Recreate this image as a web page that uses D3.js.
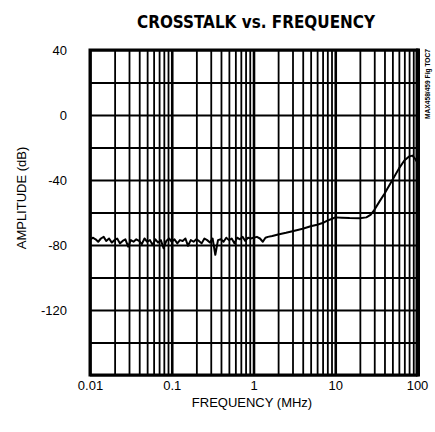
<!DOCTYPE html>
<html>
<head>
<meta charset="utf-8">
<script src="https://cdn.jsdelivr.net/npm/d3@7"></script>
<style>
  body { margin: 0; background: #fff; }
  svg { display: block; }
  .tick text { font-family: "Liberation Sans", Arial, sans-serif; font-size: 13px; fill: #000; }
  .axis path.domain { display: none; }
  .label { font-family: "Liberation Sans", Arial, sans-serif; font-size: 13px; fill: #000; }
</style>
</head>
<body>
<svg width="435" height="432"></svg>
<script>
var width = 435;
var height = 432;

// data (MHz, dB)
var noiseFreq = [
  0.0100, 0.0108, 0.0117, 0.0126, 0.0136, 0.0147, 0.0158, 0.0171, 0.0185, 0.0200,
  0.0215, 0.0232, 0.0251, 0.0271, 0.0293, 0.0316, 0.0341, 0.0368, 0.0398, 0.0430,
  0.0464, 0.0501, 0.0541, 0.0584, 0.0631, 0.0681, 0.0736, 0.0794, 0.0858, 0.0926,
  0.100, 0.108, 0.117, 0.126, 0.136, 0.147, 0.158, 0.171, 0.185, 0.200,
  0.215, 0.232, 0.251, 0.271, 0.293, 0.316, 0.341, 0.368, 0.398, 0.430,
  0.464, 0.501, 0.541, 0.584, 0.631, 0.681, 0.736, 0.794, 0.858, 0.926
];
var noiseDb = [
  -77, -75.5, -76.5, -78, -76, -75, -77.5, -76, -78.5, -77,
  -76, -79, -77.5, -76.5, -81, -77, -78, -76.5, -77.5, -79.5,
  -76, -78, -77, -80, -76.5, -78.5, -77, -82, -77.5, -76,
  -78, -76.5, -79, -77, -77.5, -76, -80.5, -77, -78, -76.5,
  -77.5, -79, -76, -77, -78.5, -76, -86, -77, -76.5, -78,
  -75.5, -77, -76, -79, -75.5, -76.5, -75, -77.5, -75.5, -76
];
var riseFreq = [1, 1.1, 1.2, 1.3, 1.4, 1.5, 1.7, 2, 2.5, 3, 4, 5, 6, 7, 8, 9, 10,
  12, 15, 20, 24, 27, 30, 35, 40, 50, 60, 70, 80, 88, 95, 100];
var riseDb = [-75.5, -75, -76, -78, -75.5, -75, -74.5, -73.5, -72.5, -71.5, -70, -68.5, -67.5, -66.5, -65, -64, -63,
  -63.2, -63.4, -63.5, -63, -61.5, -58.5, -53, -48.5, -40, -33, -28, -25.5, -25, -27, -29];

var xTicks = [0.01, 0.02, 0.03, 0.04, 0.05, 0.06, 0.07, 0.08, 0.09,
  0.1, 0.2, 0.3, 0.4, 0.5, 0.6, 0.7, 0.8, 0.9,
  1, 2, 3, 4, 5, 6, 7, 8, 9,
  10, 20, 30, 40, 50, 60, 70, 80, 90, 100];
var xLabels = [0.01, 0.1, 1, 10, 100];
var yTicks = [40, 20, 0, -20, -40, -60, -80, -100, -120, -140, -160];
var yLabels = [40, 0, -40, -80, -120];

var margin = {left: 90, right: 18, top: 50, bottom: 57};
var w = width - margin.left - margin.right;
var h = height - margin.top - margin.bottom;

var svg = d3.select("svg");

var x = d3.scaleLog().domain([0.01, 100]).range([0, w]);
var y = d3.scaleLinear().domain([-160, 40]).range([h, 0]);

var g = svg.append("g")
    .attr("transform", "translate(" + margin.left + "," + margin.top + ")");

// grid via axes
var xAxis = g.append("g")
    .attr("class", "axis")
    .attr("transform", "translate(0," + h + ")")
    .call(d3.axisBottom(x)
      .tickValues(xTicks)
      .tickSize(h)
      .tickFormat(function(d) { return xLabels.indexOf(d) >= 0 ? String(d) : ""; }));
xAxis.selectAll(".tick line")
    .attr("y1", 0).attr("y2", -h)
    .attr("stroke", "#000")
    .attr("stroke-width", function(d) { return xLabels.indexOf(d) >= 0 ? 2.6 : 1.8; });
xAxis.selectAll(".tick text").attr("y", 6);

var yAxis = g.append("g")
    .attr("class", "axis")
    .call(d3.axisLeft(y)
      .tickValues(yTicks)
      .tickSize(0)
      .tickPadding(23)
      .tickFormat(function(d) { return yLabels.indexOf(d) >= 0 ? String(d) : ""; }));
yAxis.selectAll(".tick line")
    .attr("x1", 0).attr("x2", w)
    .attr("stroke", "#000")
    .attr("stroke-width", 1.8);

// frame
g.append("rect")
    .attr("x", 0).attr("y", 0)
    .attr("width", w).attr("height", h)
    .attr("fill", "none")
    .attr("stroke", "#000")
    .attr("stroke-width", 3);
g.append("line")
    .attr("x1", w + 1).attr("x2", w + 1)
    .attr("y1", -1.5).attr("y2", h + 1.5)
    .attr("stroke", "#000")
    .attr("stroke-width", 4);

// curve
var curve = noiseFreq.map(function(f, i) { return [f, noiseDb[i]]; })
    .concat(riseFreq.map(function(f, i) { return [f, riseDb[i]]; }));

var line = d3.line()
    .x(function(d) { return x(d[0]); })
    .y(function(d) { return y(d[1]); });

g.append("path")
    .datum(curve)
    .attr("d", line)
    .attr("fill", "none")
    .attr("stroke", "#000")
    .attr("stroke-width", 2)
    .attr("stroke-linejoin", "round");

// texts
svg.append("text")
    .text("CROSSTALK vs. FREQUENCY")
    .attr("x", 256).attr("y", 28)
    .attr("text-anchor", "middle")
    .attr("textLength", 238)
    .attr("lengthAdjust", "spacingAndGlyphs")
    .style("font-family", "'Liberation Sans Narrow', 'DejaVu Sans Condensed', Arial, sans-serif")
    .style("font-weight", "bold")
    .style("font-size", "18px");

svg.append("text")
    .attr("class", "label")
    .text("FREQUENCY (MHz)")
    .attr("x", 252).attr("y", 407)
    .attr("text-anchor", "middle");

svg.append("text")
    .attr("class", "label")
    .text("AMPLITUDE (dB)")
    .attr("transform", "translate(26,198) rotate(-90)")
    .attr("text-anchor", "middle");

svg.append("text")
    .text("MAX458/459 Fig TOC7")
    .attr("transform", "translate(430,84) rotate(-90)")
    .attr("text-anchor", "middle")
    .attr("textLength", 70)
    .attr("lengthAdjust", "spacingAndGlyphs")
    .style("font-family", "'Liberation Sans Narrow', Arial, sans-serif")
    .style("font-weight", "bold")
    .style("font-size", "7px");
</script>
</body>
</html>
